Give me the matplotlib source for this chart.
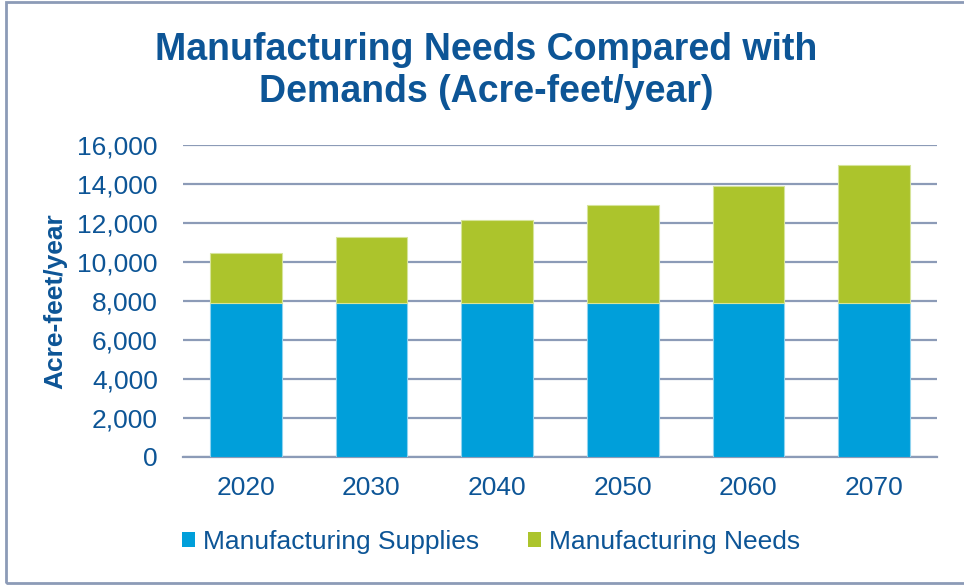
import matplotlib
matplotlib.use('Agg')
import matplotlib.pyplot as plt
from matplotlib.patches import Patch, Rectangle
from matplotlib.ticker import FuncFormatter
import numpy as np

plt.rcParams['font.family'] = ['Liberation Sans', 'DejaVu Sans']

# Acre-feet/year by decade
years = ['2020', '2030', '2040', '2050', '2060', '2070']
supplies = [7920, 7920, 7920, 7920, 7920, 7920]
needs = [2530, 3350, 4220, 4990, 5990, 7060]

supply_color = '#009fda'
needs_color = '#acc42c'
text_color = '#0d5596'
grid_color = '#8c9bb7'

fig = plt.figure(figsize=(9.64, 5.87), dpi=100)
ax = fig.add_axes([0.1898, 0.2215, 0.782, 0.5315])

x = np.arange(len(years))
ax.bar(x, supplies, width=0.57, color=supply_color, edgecolor='#8fd3ef',
       linewidth=0.8, zorder=3)
ax.bar(x, needs, width=0.57, bottom=supplies, color=needs_color,
       edgecolor='#d6e49a', linewidth=0.8, zorder=3)

ax.set_xlim(-0.5, len(years) - 0.5)
ax.set_ylim(0, 16000)
ax.set_yticks(np.arange(0, 16001, 2000))
ax.yaxis.set_major_formatter(FuncFormatter(lambda v, p: f'{int(v):,}'))
ax.set_xticks(x)
ax.set_xticklabels(years)

ax.grid(axis='y', color=grid_color, linewidth=1.6, zorder=0)
for side in ['top', 'right', 'left']:
    ax.spines[side].set_visible(False)
ax.spines['bottom'].set_color(grid_color)
ax.spines['bottom'].set_linewidth(1.6)
ax.tick_params(axis='both', length=0, labelsize=19, labelcolor=text_color)
ax.tick_params(axis='y', pad=18)
ax.tick_params(axis='x', pad=14)

ax.set_ylabel('Acre-feet/year', fontsize=19, fontweight='bold',
              color=text_color)
ax.yaxis.set_label_coords(-(183 - 55) / 754, 0.5)
ax.yaxis.label.set_va('center')

fig.text(0.504, 1 - 71 / 587, 'Manufacturing Needs Compared with\nDemands (Acre-feet/year)',
         ha='center', va='center', fontsize=27, fontweight='bold',
         color=text_color, linespacing=1.22)

handles = [Patch(facecolor=supply_color, label='Manufacturing Supplies'),
           Patch(facecolor=needs_color, label='Manufacturing Needs')]
leg = fig.legend(handles=handles, loc='center', bbox_to_anchor=(0.509, 1 - 542 / 587),
                 ncol=2, frameon=False, fontsize=19, handlelength=0.5,
                 handleheight=0.5, handletextpad=0.3, columnspacing=1.85)
for t in leg.get_texts():
    t.set_color(text_color)

# outer frame of the chart area
fig.patches.append(Rectangle((6 / 964, 1 - 583 / 587), 1.05, 581 / 587,
                             transform=fig.transFigure, fill=False,
                             edgecolor=grid_color, linewidth=2))

fig.savefig('out.png', dpi=100)
